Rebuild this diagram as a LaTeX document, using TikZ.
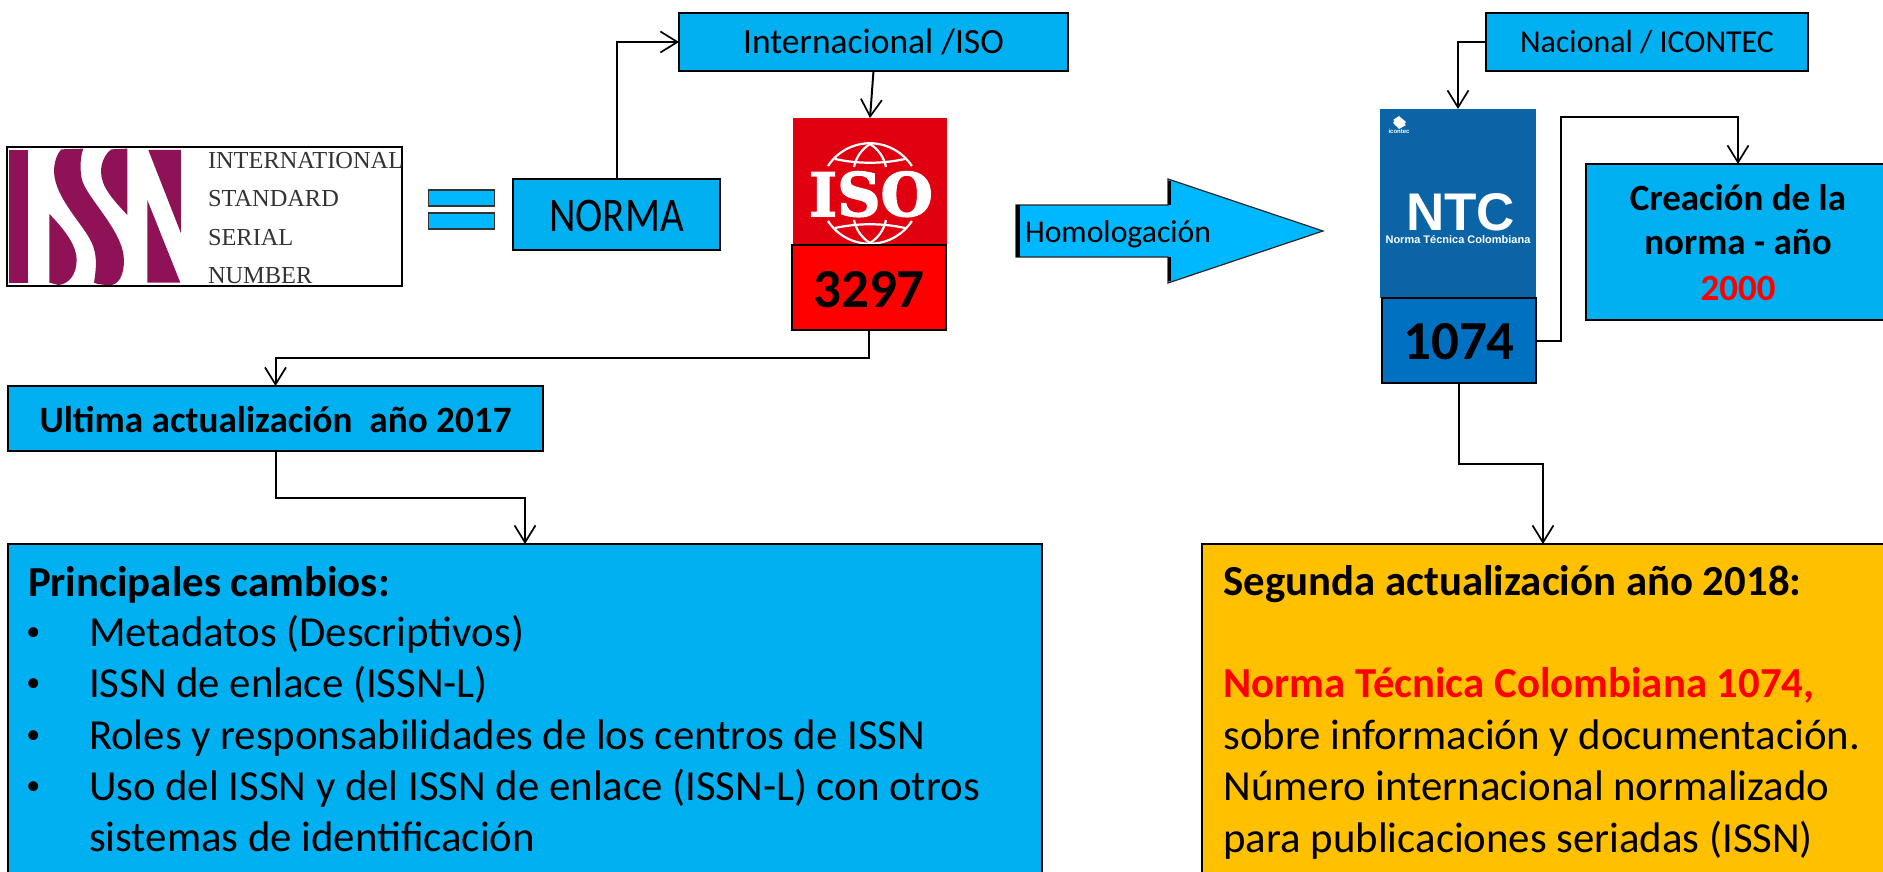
\documentclass[tikz,border=0pt]{standalone}
\usepackage{fontspec}
\setmainfont{Carlito}
\newfontfamily\logoserif{Liberation Serif}
\newfontfamily\isoface{DejaVu Serif}[BoldFeatures={FakeBold=2.5}]
\newfontfamily\ntcface{Liberation Sans}
\usetikzlibrary{arrows.meta}
\definecolor{boxblue}{HTML}{00B0F0}
\definecolor{barblue}{HTML}{00B8FF}
\definecolor{amber}{HTML}{FFC000}
\definecolor{isored}{HTML}{E0000F}
\definecolor{ntcblue}{HTML}{0A64A6}
\definecolor{numblue}{HTML}{0070C0}
\definecolor{issnred}{HTML}{8F1257}
\newcommand{\fs}[1]{\fontsize{#1}{#1}\selectfont}
\tikzset{
  frame/.style={draw=black,line width=2pt,inner sep=0pt,outer sep=0pt,anchor=center},
  arr/.style={draw=black,line width=2pt,-{Straight Barb[length=17pt,width=21pt,line width=1.7pt]}},
  txt/.style={inner sep=0pt,outer sep=0pt,anchor=base west,text=black},
  ctxt/.style={inner sep=0pt,outer sep=0pt,anchor=base,text=black},
  logotxt/.style={inner sep=0pt,outer sep=0pt,anchor=base west,text=black!80,font=\logoserif\fs{24.4}},
  globe/.style={draw=white,line width=2.2pt},
  bodyfont/.style={font=\fs{42.8}},
  boldfont/.style={font=\bfseries\fs{42.8}},
  bul/.style={txt,font=\fs{28}},
}
\begin{document}
\begin{tikzpicture}[x=1pt,y=-1pt]
\useasboundingbox (0,0) rectangle (1883,872);
\clip (0,0) rectangle (1883,872);
\fill[white] (0,0) rectangle (1883,872);

% ISSN logo
\node[draw=black,line width=2.6pt,minimum width=395pt,minimum height=139pt,inner sep=0pt,anchor=center] (logo) at (204.5,216.5) {};
\begin{scope}[x=0.3333pt,y=-0.3333pt,shift={(0pt,-100pt)}]
\fill[issnred] (26,150) rectangle (85,548);
\fill[issnred] (148,342) .. controls (200,395) and (230,440) .. (230,480) .. controls (230,525) and (205,553) .. (175,555) -- (148,548) -- cycle;
\fill[issnred] (250,146) .. controls (240,170) and (240,210) .. (245,235) .. controls (255,290) and (370,390) .. (372,480) .. controls (372,520) and (360,550) .. (335,555) .. controls (320,555) and (295,555) .. (282,548) .. controls (290,500) and (290,470) .. (280,440) .. controls (260,380) and (165,300) .. (162,215) .. controls (162,190) and (170,160) .. (185,148) -- cycle;
\fill[issnred] (382,146) -- (382,345) .. controls (340,300) and (303,260) .. (303,215) .. controls (303,190) and (315,160) .. (335,148) -- cycle;
\fill[issnred] (445,150) -- (543,150) -- (543,400) -- cycle;
\fill[issnred] (442,300) -- (541,548) -- (442,548) -- cycle;
\end{scope}
\node[logotxt] (l1) at (208,168) {INTERNATIONAL};
\node[logotxt] (l2) at (208,207) {STANDARD};
\node[logotxt] (l3) at (208,245) {SERIAL};
\node[logotxt] (l4) at (208,283) {NUMBER};

% equals bars
\node[draw=black!80,line width=1.6pt,fill=barblue,minimum width=66pt,minimum height=16pt,inner sep=0pt] (bar1) at (461.5,198) {};
\node[draw=black!80,line width=1.6pt,fill=barblue,minimum width=66pt,minimum height=16pt,inner sep=0pt] (bar2) at (461.5,221) {};

% top boxes
\node[frame,fill=boxblue,minimum width=207pt,minimum height=71pt] (norma) at (616.5,214.5) {};
\node[ctxt,font=\fs{41}] (normat) at (616.5,231) {\scalebox{1}[1.18]{NORMA}};
\node[frame,fill=boxblue,minimum width=389pt,minimum height=58pt] (inter) at (873.5,42) {};
\node[ctxt,font=\fs{35.5}] (intert) at (873.5,54) {Internacional /ISO};
\node[frame,fill=boxblue,minimum width=322pt,minimum height=58pt] (nac) at (1647,42) {};
\node[ctxt,font=\fs{31.9}] (nact) at (1647,52.5) {Nacional / ICONTEC};

% ISO image
\node[fill=isored,minimum width=154pt,minimum height=127pt,inner sep=0pt,outer sep=0pt] (isoimg) at (870,181.5) {};
\node[ctxt,text=white,font=\isoface\bfseries\fs{60}] (isot) at (871,216) {ISO};
\draw[globe] (828,166) arc[start angle=147,end angle=33,radius=50pt];
\draw[globe] (835,159) .. controls (858,164) and (882,164) .. (905,159);
\draw[globe] (854,167) .. controls (856,157) and (862,149) .. (870,144);
\draw[globe] (886,167) .. controls (884,157) and (878,149) .. (870,144);
\draw[globe] (828,221) arc[start angle=-147,end angle=-33,radius=50pt];
\draw[globe] (835,228) .. controls (858,223) and (882,223) .. (905,228);
\draw[globe] (854,220) .. controls (856,230) and (862,238) .. (870,243);
\draw[globe] (886,220) .. controls (884,230) and (878,238) .. (870,243);
\node[frame,fill=red,minimum width=154pt,minimum height=85pt] (n3297) at (869,287.5) {};
\node[ctxt,font=\bfseries\fs{55}] (n3297t) at (869,307.5) {3297};

% Homologacion arrow
\fill[barblue] (1016,205) -- (1168,205) -- (1168,179) -- (1323,231) -- (1168,283) -- (1168,257) -- (1016,257) -- cycle;
\draw[black!85,line width=1.2pt,line join=miter] (1016,205) -- (1168,205) -- (1168,179) -- (1323,231) -- (1168,283) -- (1168,257) -- (1016,257) -- cycle;
\draw[black,line width=4pt] (1017.5,205) -- (1017.5,257);
\draw[black,line width=3pt] (1169,181) -- (1169,205) (1169,257) -- (1169,281);
\node[txt,font=\fs{31.7}] (homo) at (1025,242) {Homologación};

% NTC image
\node[fill=ntcblue,minimum width=156pt,minimum height=189pt,inner sep=0pt,outer sep=0pt] (ntcimg) at (1458,203.5) {};
\node[ctxt,text=white,font=\ntcface\bfseries\fs{53}] (ntct) at (1460.5,230) {NTC};
\node[ctxt,text=white,font=\ntcface\bfseries\fs{11}] (ntcs) at (1458,243) {Norma Técnica Colombiana};
\fill[white] (1399,116) -- (1406,122) -- (1403,126) -- (1393,120) -- cycle;
\fill[white] (1399,129) -- (1393,123) -- (1396,119) -- (1406,125) -- cycle;
\node[ctxt,text=white,font=\ntcface\bfseries\fs{6}] (ntci) at (1399,134) {icontec};
\node[frame,fill=numblue,minimum width=154pt,minimum height=85pt] (n1074) at (1459,340.5) {};
\node[ctxt,font=\bfseries\fs{55}] (n1074t) at (1459,359) {1074};

% Creacion box
\node[frame,fill=boxblue,minimum width=304pt,minimum height=156pt] (crea) at (1738,242) {};
\node[ctxt,font=\bfseries\fs{37}] (crea1) at (1738,210) {Creación de la};
\node[ctxt,font=\bfseries\fs{37}] (crea2) at (1738,254.5) {norma - año};
\node[ctxt,font=\bfseries\fs{37},text=red] (crea3) at (1738,300) {2000};

% Ultima box
\node[frame,fill=boxblue,minimum width=535pt,minimum height=65pt] (ultima) at (275.5,418.5) {};
\node[ctxt,font=\bfseries\fs{37.2}] (ultimat) at (275.5,432) {Ultima actualización\ \ año 2017};

% Principales box
\node[frame,fill=boxblue,minimum width=1034pt,minimum height=346pt] (prin) at (525,717) {};
\node[txt,boldfont] (p0) at (28,596) {Principales cambios:};
\node[bul] (b1) at (26.5,640) {•};
\node[txt,bodyfont] (p1) at (89,646.5) {Metadatos (Descriptivos)};
\node[bul] (b2) at (26.5,691) {•};
\node[txt,bodyfont] (p2) at (89,697.5) {ISSN de enlace (ISSN-L)};
\node[bul] (b3) at (26.5,743) {•};
\node[txt,bodyfont] (p3) at (89,749) {Roles y responsabilidades de los centros de ISSN};
\node[bul] (b4) at (26.5,794) {•};
\node[txt,bodyfont] (p4) at (89,800) {Uso del ISSN y del ISSN de enlace (ISSN-L) con otros};
\node[txt,bodyfont] (p5) at (89,851) {sistemas de identificación};

% Segunda box
\node[frame,fill=amber,minimum width=682pt,minimum height=346pt] (seg) at (1543,717) {};
\node[txt,boldfont] (s0) at (1223.5,595) {Segunda actualización año 2018:};
\node[txt,boldfont,text=red] (s1) at (1223.5,697) {Norma Técnica Colombiana 1074,};
\node[txt,bodyfont] (s2) at (1223.5,749) {sobre información y documentación.};
\node[txt,bodyfont] (s3) at (1223.5,800) {Número internacional normalizado};
\node[txt,bodyfont] (s4) at (1223.5,852) {para publicaciones seriadas (ISSN)};

% connectors
\coordinate (c1) at (1561,117);
\coordinate (c2) at (275.5,358);
\coordinate (c3) at (400,498);
\coordinate (c4) at (1500,464);
\draw[arr] (norma.north) |- (inter.west);
\draw[arr] (inter.south) -- (isoimg.north);
\draw[arr] (nac.west) -| (ntcimg.north);
\draw[arr] (n1074.east) -| (c1) -| (crea.north);
\draw[arr] (n3297.south) |- (c2) -- (ultima.north);
\draw[arr] (ultima.south) |- (c3) -| (prin.north);
\draw[arr] (n1074.south) |- (c4) -| (seg.north);
\end{tikzpicture}
\end{document}
